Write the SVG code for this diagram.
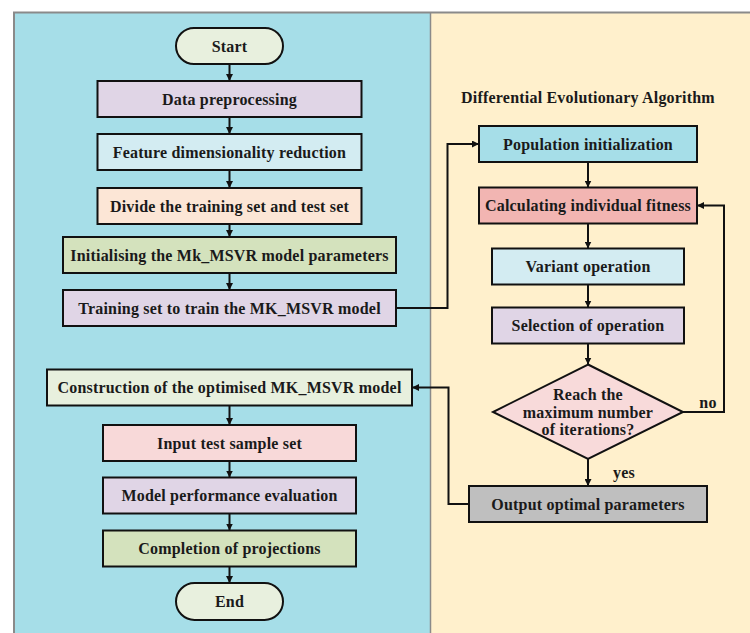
<svg xmlns="http://www.w3.org/2000/svg" width="750" height="633" viewBox="0 0 750 633">
<style>
.b{stroke:#111;stroke-width:2}
.t{font-family:"Liberation Serif","DejaVu Serif",serif;font-weight:bold;font-size:16px;letter-spacing:0.2px;fill:#1a1a1a;text-anchor:middle;dominant-baseline:central}
.c{fill:none;stroke:#111;stroke-width:2}
</style>
<defs>
<marker id="ah" viewBox="0 0 10 10" refX="10" refY="5" markerWidth="7" markerHeight="7" markerUnits="userSpaceOnUse" orient="auto">
<path d="M0,0 L10,5 L0,10 Z" fill="#111"/>
</marker>
</defs>
<rect x="0" y="0" width="750" height="633" fill="#fff"/>
<g id="panels">
<rect x="14" y="12" width="417" height="630" fill="#A6DEE8"/>
<rect x="431" y="12" width="330" height="630" fill="#FFF0CC"/>
<path d="M14,640 V12.5 H760" fill="none" stroke="#8a8a8a" stroke-width="2"/>
<line x1="430.5" y1="12" x2="430.5" y2="633" stroke="#8a8a8a" stroke-width="1.5"/>
</g>
<g id="title"><text class="t" x="588" y="97">Differential Evolutionary Algorithm</text></g>
<g id="start"><rect class="b" x="176" y="28" width="107" height="36" rx="18" fill="#E8F0DE"/><text class="t" x="229.5" y="46">Start</text></g>
<g id="preproc"><rect class="b" x="97.5" y="81" width="264" height="36" fill="#E0D5E6"/><text class="t" x="229.5" y="99">Data preprocessing</text></g>
<g id="feature"><rect class="b" x="97.5" y="134" width="264" height="36" fill="#D3ECF2"/><text class="t" x="229.5" y="152">Feature dimensionality reduction</text></g>
<g id="divide"><rect class="b" x="97.5" y="188" width="264" height="36" fill="#FCE6D6"/><text class="t" x="229.5" y="206">Divide the training set and test set</text></g>
<g id="init"><rect class="b" x="63" y="237" width="333" height="36" fill="#D4E2BD"/><text class="t" x="229.5" y="255">Initialising the Mk_MSVR model parameters</text></g>
<g id="train"><rect class="b" x="63" y="290" width="333" height="36" fill="#E0D5E6"/><text class="t" x="229.5" y="308">Training set to train the MK_MSVR model</text></g>
<g id="construct"><rect class="b" x="47" y="369.5" width="365" height="36" fill="#E8F0DE"/><text class="t" x="229.5" y="387.5">Construction of the optimised MK_MSVR model</text></g>
<g id="input"><rect class="b" x="103" y="425" width="253" height="36" fill="#F8D9D9"/><text class="t" x="229.5" y="443">Input test sample set</text></g>
<g id="perf"><rect class="b" x="103" y="477.5" width="253" height="36" fill="#E0D5E6"/><text class="t" x="229.5" y="495.5">Model performance evaluation</text></g>
<g id="complete"><rect class="b" x="103" y="530.5" width="253" height="36" fill="#D4E2BD"/><text class="t" x="229.5" y="548.5">Completion of projections</text></g>
<g id="end"><rect class="b" x="176" y="583" width="107" height="37" rx="18.5" fill="#E8F0DE"/><text class="t" x="229.5" y="601.5">End</text></g>
<g id="popinit"><rect class="b" x="479" y="126" width="218" height="36" fill="#A6DEE8"/><text class="t" x="588" y="144">Population initialization</text></g>
<g id="fitness"><rect class="b" x="479" y="187.5" width="218" height="36" fill="#F2B5B2"/><text class="t" x="588" y="205.5">Calculating individual fitness</text></g>
<g id="variant"><rect class="b" x="492" y="248.5" width="192" height="36" fill="#D3ECF2"/><text class="t" x="588" y="266.5">Variant operation</text></g>
<g id="selection"><rect class="b" x="492" y="307.5" width="192" height="36" fill="#E0D5E6"/><text class="t" x="588" y="325.5">Selection of operation</text></g>
<g id="decision"><polygon class="b" points="588,364.5 683,412 588,459 493,412" fill="#F8DADA"/><text class="t" x="588" y="394">Reach the</text><text class="t" x="588" y="412">maximum number</text><text class="t" x="588" y="429">of iterations?</text></g>
<g id="output"><rect class="b" x="469" y="486" width="238" height="36" fill="#BFBFBF"/><text class="t" x="588" y="504">Output optimal parameters</text></g>
<g id="connectors">
<line class="c" x1="229.5" y1="64" x2="229.5" y2="81" marker-end="url(#ah)"/>
<line class="c" x1="229.5" y1="117" x2="229.5" y2="134" marker-end="url(#ah)"/>
<line class="c" x1="229.5" y1="170" x2="229.5" y2="188" marker-end="url(#ah)"/>
<line class="c" x1="229.5" y1="224" x2="229.5" y2="237" marker-end="url(#ah)"/>
<line class="c" x1="229.5" y1="273" x2="229.5" y2="290" marker-end="url(#ah)"/>
<line class="c" x1="229.5" y1="405.5" x2="229.5" y2="425" marker-end="url(#ah)"/>
<line class="c" x1="229.5" y1="461" x2="229.5" y2="477.5" marker-end="url(#ah)"/>
<line class="c" x1="229.5" y1="513.5" x2="229.5" y2="530.5" marker-end="url(#ah)"/>
<line class="c" x1="229.5" y1="566.5" x2="229.5" y2="583" marker-end="url(#ah)"/>
<polyline class="c" points="396,308 447.5,308 447.5,144 479,144" marker-end="url(#ah)"/>
<line class="c" x1="588" y1="162" x2="588" y2="187.5" marker-end="url(#ah)"/>
<line class="c" x1="588" y1="223.5" x2="588" y2="248.5" marker-end="url(#ah)"/>
<line class="c" x1="588" y1="284.5" x2="588" y2="307.5" marker-end="url(#ah)"/>
<line class="c" x1="588" y1="343.5" x2="588" y2="364.5" marker-end="url(#ah)"/>
<line class="c" x1="588" y1="459" x2="588" y2="486" marker-end="url(#ah)"/>
<polyline class="c" points="683,412 724,412 724,205.5 697,205.5" marker-end="url(#ah)"/>
<polyline class="c" points="469,504 448.5,504 448.5,387.5 412,387.5" marker-end="url(#ah)"/>
<text class="t" x="708" y="402.5">no</text>
<text class="t" x="624" y="472">yes</text>
</g>
</svg>
